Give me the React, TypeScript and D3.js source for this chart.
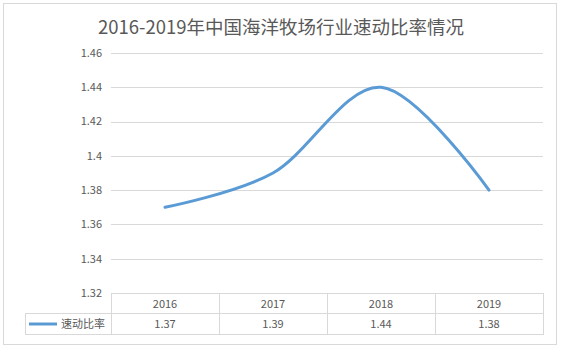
import React, { useEffect, useRef } from 'react';
import * as d3 from 'd3';

const years = ['2016', '2017', '2018', '2019'];
const quickRatio = [1.37, 1.39, 1.44, 1.38];
const yTicks = [1.32, 1.34, 1.36, 1.38, 1.4, 1.42, 1.44, 1.46];
const seriesName = '速动比率';
const title = '2016-2019年中国海洋牧场行业速动比率情况';

const FONT = '"Noto Sans CJK SC", "Noto Sans", sans-serif';
const TEXT = '#595959';
const GRID = '#D9D9D9';
const BLUE = '#5B9BD5';

const App: React.FC = () => {
  const svgRef = useRef<SVGSVGElement>(null);

  useEffect(() => {
    if (!svgRef.current) return;
    const svg = d3.select(svgRef.current);
    svg.selectAll('*').remove();

    const width = 565;
    const height = 351;
    const plot = { left: 111, right: 543, top: 53, bottom: 293 };
    const rowH = [20, 21];
    const legendLeft = 25;

    // chart frame
    svg.append('rect')
      .attr('x', 3.5).attr('y', 3.5)
      .attr('width', 553).attr('height', 341)
      .attr('fill', '#fff')
      .attr('stroke', GRID);

    svg.append('text')
      .attr('x', 281)
      .attr('y', 34)
      .attr('text-anchor', 'middle')
      .attr('font-family', FONT)
      .style('font-size', '18.5px')
      .style('fill', TEXT)
      .text(title);

    const xScale = d3.scaleBand<string>()
      .domain(years)
      .range([plot.left, plot.right]);

    const yScale = d3.scaleLinear()
      .domain([1.32, 1.46])
      .range([plot.bottom, plot.top]);

    // gridlines
    svg.append('g')
      .selectAll('line')
      .data(yTicks)
      .join('line')
      .attr('x1', plot.left)
      .attr('x2', plot.right)
      .attr('y1', d => Math.round(yScale(d)) + 0.5)
      .attr('y2', d => Math.round(yScale(d)) + 0.5)
      .attr('stroke', GRID)
      .attr('stroke-width', 1);

    svg.append('g')
      .selectAll('text')
      .data(yTicks)
      .join('text')
      .attr('x', plot.left - 9)
      .attr('y', d => yScale(d))
      .attr('dy', '0.35em')
      .attr('text-anchor', 'end')
      .attr('font-family', FONT)
      .style('font-size', '11px')
      .style('fill', TEXT)
      .text(d => d3.format('~g')(d));

    // data table
    const r0 = plot.bottom;
    const r1 = r0 + rowH[0];
    const r2 = r1 + rowH[1];
    const tbl = svg.append('g')
      .attr('stroke', GRID)
      .attr('stroke-width', 1)
      .attr('fill', 'none');
    tbl.append('line').attr('x1', plot.left).attr('x2', plot.right).attr('y1', r0 + 0.5).attr('y2', r0 + 0.5);
    tbl.append('line').attr('x1', legendLeft).attr('x2', plot.right).attr('y1', r1 + 0.5).attr('y2', r1 + 0.5);
    tbl.append('line').attr('x1', legendLeft).attr('x2', plot.right).attr('y1', r2 + 0.5).attr('y2', r2 + 0.5);
    tbl.append('line').attr('x1', legendLeft + 0.5).attr('x2', legendLeft + 0.5).attr('y1', r1).attr('y2', r2 + 1);
    const colEdges = [...years.map(y => xScale(y) as number), plot.right];
    tbl.selectAll('line.col')
      .data(colEdges)
      .join('line')
      .attr('class', 'col')
      .attr('x1', d => Math.round(d) + 0.5)
      .attr('x2', d => Math.round(d) + 0.5)
      .attr('y1', r0)
      .attr('y2', r2 + 1);

    const cx = (y: string) => (xScale(y) as number) + xScale.bandwidth() / 2;

    svg.append('g')
      .selectAll('text')
      .data(years)
      .join('text')
      .attr('x', d => cx(d))
      .attr('y', (r0 + r1) / 2 + 1)
      .attr('dy', '0.35em')
      .attr('text-anchor', 'middle')
      .attr('font-family', FONT)
      .style('font-size', '11px')
      .style('fill', TEXT)
      .text(d => d);

    svg.append('g')
      .selectAll('text')
      .data(quickRatio)
      .join('text')
      .attr('x', (d, i) => cx(years[i]))
      .attr('y', (r1 + r2) / 2 + 1)
      .attr('dy', '0.35em')
      .attr('text-anchor', 'middle')
      .attr('font-family', FONT)
      .style('font-size', '11px')
      .style('fill', TEXT)
      .text(d => d.toFixed(2));

    // legend key
    svg.append('line')
      .attr('x1', 29).attr('x2', 57)
      .attr('y1', (r1 + r2) / 2 + 0.5).attr('y2', (r1 + r2) / 2 + 0.5)
      .attr('stroke', BLUE)
      .attr('stroke-width', 3);

    svg.append('text')
      .attr('x', 61)
      .attr('y', (r1 + r2) / 2 + 1)
      .attr('dy', '0.35em')
      .attr('font-family', FONT)
      .style('font-size', '11px')
      .style('fill', TEXT)
      .text(seriesName);

    // smoothed series line
    const line = d3.line<number>()
      .x((d, i) => cx(years[i]))
      .y(d => yScale(d))
      .curve(d3.curveCardinal.tension(0));

    svg.append('path')
      .datum(quickRatio)
      .attr('fill', 'none')
      .attr('stroke', BLUE)
      .attr('stroke-width', 3)
      .attr('stroke-linecap', 'round')
      .attr('d', line);

    svg.attr('width', width).attr('height', height);
  }, []);

  return (
    <svg
      ref={svgRef}
      width={565}
      height={351}
      style={{ position: 'absolute', left: 0, top: 0, display: 'block', background: '#fff' }}
    />
  );
};

export default App;
